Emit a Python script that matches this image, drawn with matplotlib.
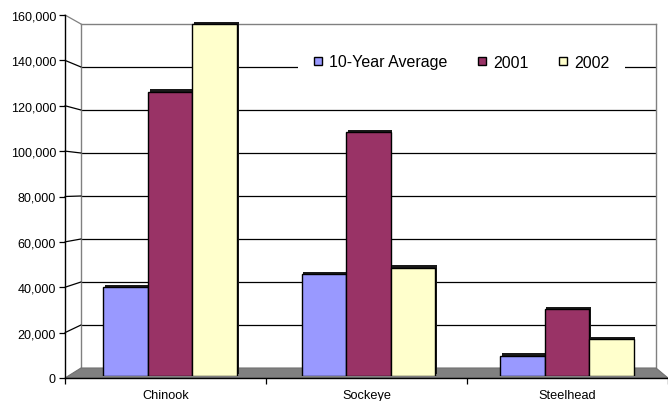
import numpy as np
import matplotlib
matplotlib.use('Agg')
import matplotlib.pyplot as plt
import matplotlib.patheffects as pe
from matplotlib.patches import ConnectionPatch, Polygon
from matplotlib.lines import Line2D

plt.rcParams['font.family'] = ['Liberation Sans', 'DejaVu Sans']

# Data
categories = ['Chinook', 'Sockeye', 'Steelhead']
series_names = ['10-Year Average', '2001', '2002']
ten_year_avg = [39500, 45000, 9000]
year_2001 = [126000, 108000, 29500]
year_2002 = [156000, 48000, 16500]
y_ticks = [0, 20000, 40000, 60000, 80000, 100000, 120000, 140000, 160000]

colors = ['#9999FF', '#993366', '#FFFFCC']

W, H = 668, 402
fig = plt.figure(figsize=(W / 100, H / 100), dpi=100)


def box(x0, y0, x1, y1):
    # pixel box (top-left origin) -> figure fraction rect
    return [x0 / W, 1 - y1 / H, (x1 - x0) / W, (y1 - y0) / H]


# back wall of the pseudo-3D chart
ax_wall = fig.add_axes(box(81, 25, 656, 369), zorder=0)
ax_wall.set_ylim(0, 160000)
ax_wall.set_xlim(0, 1)
ax_wall.set_yticks(y_ticks[1:-1])
ax_wall.set_xticks([])
ax_wall.tick_params(left=False, labelleft=False)
ax_wall.grid(axis='y', color='black', lw=0.9)
for side in ['left', 'top', 'right']:
    ax_wall.spines[side].set_color('#808080')
    ax_wall.spines[side].set_linewidth(1)
ax_wall.spines['bottom'].set_visible(False)

# front axis with the ticks and labels
ax_front = fig.add_axes(box(65, 16, 668, 379), zorder=2)
ax_front.set_facecolor('none')
ax_front.set_ylim(0, 160000)
ax_front.set_xlim(-0.5, 2.5)
ax_front.set_yticks(y_ticks)
ax_front.yaxis.set_major_formatter(matplotlib.ticker.StrMethodFormatter('{x:,.0f}'))
ax_front.set_xticks(range(len(categories)))
ax_front.set_xticklabels(categories)
ax_front.set_xticks([-0.5, 0.5, 1.5, 2.5], minor=True)
ax_front.tick_params(axis='x', which='major', length=0, pad=8, labelsize=9.2)
ax_front.tick_params(axis='x', which='minor', length=4.5, width=0.9, direction='out')
ax_front.tick_params(axis='y', length=4.5, width=0.9, pad=2, labelsize=9)
for side in ['top', 'right']:
    ax_front.spines[side].set_visible(False)
for side in ['left', 'bottom']:
    ax_front.spines[side].set_linewidth(1)

# slanted lines joining front ticks to back-wall gridlines
for v in y_ticks[1:]:
    con = ConnectionPatch(xyA=(0, v), coordsA=ax_front.get_yaxis_transform(),
                          xyB=(0, v), coordsB=ax_wall.get_yaxis_transform(),
                          color='#808080' if v == y_ticks[-1] else 'black',
                          lw=0.9, zorder=1.5)
    fig.add_artist(con)

# floor
pts = [ax_front.transAxes.transform((0, 0)), ax_front.transAxes.transform((1, 0)),
       ax_wall.transAxes.transform((1, 0)), ax_wall.transAxes.transform((0, 0))]
pts = fig.transFigure.inverted().transform(pts)
floor = Polygon(pts, closed=True, facecolor='#808080', edgecolor='#707070',
                lw=0.8, transform=fig.transFigure, zorder=1)
fig.add_artist(floor)

# bars
ax_bars = fig.add_axes(box(71, 16, 666, 377), zorder=3)
ax_bars.axis('off')
ax_bars.set_xlim(-0.5, 2.5)
ax_bars.set_ylim(0, 160000)

x = np.arange(len(categories))
bw = 0.225
shadow = [pe.SimplePatchShadow(offset=(1.2, 1.6), shadow_rgbFace='#1a1a1a', alpha=1.0),
          pe.Normal()]
for i, (vals, c) in enumerate(zip([ten_year_avg, year_2001, year_2002], colors)):
    bars = ax_bars.bar(x + (i - 1) * bw, vals, width=bw, color=c,
                       edgecolor='black', lw=1.0)
    for b in bars:
        b.set_path_effects(shadow)

handles = [Line2D([], [], marker='s', ls='none', markersize=5.5,
                  markerfacecolor=c, markeredgecolor='black', markeredgewidth=1.0)
           for c in colors]
leg = ax_bars.legend(handles, series_names, loc='center',
                     bbox_to_anchor=(461.5 / W, 1 - 63 / H), bbox_transform=fig.transFigure,
                     ncol=3, fontsize=11.5, frameon=True, fancybox=False,
                     handlelength=0.5, handletextpad=0.45, columnspacing=1.9,
                     borderpad=1.0)
leg.get_frame().set_facecolor('white')
leg.get_frame().set_edgecolor('none')
leg.get_frame().set_alpha(1)

fig.savefig('out.png', dpi=100)
